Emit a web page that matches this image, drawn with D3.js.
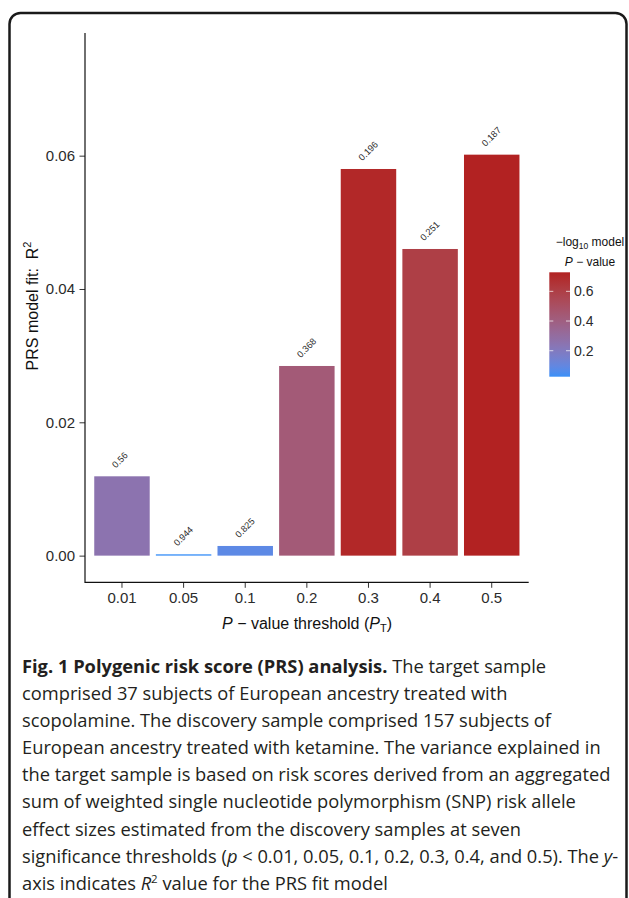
<!DOCTYPE html>
<html>
<head>
<meta charset="utf-8">
<script src="https://cdn.jsdelivr.net/npm/d3@7"></script>
<style>
  body { margin: 0; background: #fff; }
  svg { display: block; }
</style>
</head>
<body>
<div id="chart"></div>
<script>
var W = 629;
var H = 898;

// data
var thresholds = ['0.01', '0.05', '0.1', '0.2', '0.3', '0.4', '0.5'];
var r2Values = [0.0119, 0.0002, 0.00145, 0.02845, 0.0580, 0.0460, 0.06015];
var modelP = [0.56, 0.944, 0.825, 0.368, 0.196, 0.251, 0.187];
var yTicks = [0, 0.02, 0.04, 0.06];
var legendTicks = [0.2, 0.4, 0.6];

var lowColor = '#3a90f8';
var highColor = '#b22222';

var svg = d3.select('#chart').append('svg').attr('width', W).attr('height', H);

// rounded frame round the figure
svg.append('rect')
  .attr('x', 9.5).attr('y', 13)
  .attr('width', 617).attr('height', 960)
  .attr('rx', 11)
  .attr('fill', 'none')
  .attr('stroke', '#1a1a1a')
  .attr('stroke-width', 2.5);

/* ===== SCALES ===== */

var xScale = d3.scaleBand()
  .domain(thresholds)
  .range([85, 528.7])
  .paddingInner(0.1)
  .paddingOuter(0.15);

var yScale = d3.scaleLinear()
  .domain([-0.004, 0.0784])
  .range([582.3, 33]);

var logP = modelP.map(function (p) { return -Math.log10(p); });
var cMin = d3.min(logP), cMax = d3.max(logP);

var color = d3.scaleLinear()
  .domain([cMin, cMax])
  .range([lowColor, highColor])
  .interpolate(d3.interpolateLab);

var plotFont = '"Liberation Sans", Arial, Helvetica, sans-serif';

/* ===== BARS ===== */

var bars = svg.append('g').selectAll('g')
  .data(thresholds)
  .enter()
  .append('g');

bars.append('rect')
  .attr('x', function (d) { return xScale(d); })
  .attr('width', xScale.bandwidth())
  .attr('y', function (d, i) { return yScale(r2Values[i]); })
  .attr('height', function (d, i) { return yScale(0) - yScale(r2Values[i]); })
  .attr('fill', function (d, i) { return color(logP[i]); });

bars.append('text')
  .attr('transform', function (d, i) {
    var cx = xScale(d) + xScale.bandwidth() / 2;
    return 'translate(' + (cx - 8.5) + ',' + (yScale(r2Values[i]) - 10) + ') rotate(-45)';
  })
  .attr('dy', '0.35em')
  .attr('text-anchor', 'start')
  .style('font-family', plotFont)
  .style('font-size', '9.2px')
  .attr('fill', '#2a2a2a')
  .text(function (d, i) { return modelP[i]; });

/* ===== AXES ===== */

var yAxis = d3.axisLeft(yScale)
  .tickValues(yTicks)
  .tickFormat(d3.format('.2f'))
  .tickSize(5.5)
  .tickPadding(4.5);

var yG = svg.append('g').attr('transform', 'translate(85,0)').call(yAxis);
yG.select('.domain').remove();

var xAxis = d3.axisBottom(xScale)
  .tickSize(5.5)
  .tickPadding(4.5);

var xG = svg.append('g').attr('transform', 'translate(0,582.3)').call(xAxis);
xG.select('.domain').remove();

[yG, xG].forEach(function (g) {
  g.selectAll('text')
    .style('font-family', plotFont)
    .style('font-size', '15px')
    .attr('fill', '#2b2b2b');
  g.selectAll('.tick line').attr('stroke', '#333').attr('stroke-width', 1);
});

svg.append('path')
  .attr('d', 'M85,33V582.3H528.7')
  .attr('fill', 'none')
  .attr('stroke', '#111')
  .attr('stroke-width', 1.2);

// y title
var yTitle = svg.append('text')
  .attr('transform', 'translate(37.5,306) rotate(-90)')
  .attr('text-anchor', 'middle')
  .style('font-family', plotFont)
  .style('font-size', '16px')
  .style('white-space', 'pre')
  .attr('fill', '#111');
yTitle.append('tspan').text('PRS model fit:  R');
yTitle.append('tspan').attr('dy', -7).style('font-size', '11px').text('2');

// x title
var xTitle = svg.append('text')
  .attr('x', 307).attr('y', 628.5)
  .attr('text-anchor', 'middle')
  .style('font-family', plotFont)
  .style('font-size', '16px')
  .style('white-space', 'pre')
  .attr('fill', '#111');
xTitle.append('tspan').style('font-style', 'italic').text('P');
xTitle.append('tspan').text(' \u2212 value threshold (');
xTitle.append('tspan').style('font-style', 'italic').text('P');
xTitle.append('tspan').attr('dy', 3.5).style('font-size', '11px').text('T');
xTitle.append('tspan').attr('dy', -3.5).text(')');

/* ===== LEGEND ===== */

var legY = d3.scaleLinear().domain([cMin, cMax]).range([376.7, 272.3]);
var legX = 549.3, legW = 20.7;

var grad = svg.append('defs').append('linearGradient')
  .attr('id', 'legGrad')
  .attr('x1', 0).attr('y1', 1).attr('x2', 0).attr('y2', 0);

grad.selectAll('stop')
  .data(d3.range(0, 1.0001, 0.05))
  .enter()
  .append('stop')
  .attr('offset', function (t) { return t; })
  .attr('stop-color', function (t) { return color(cMin + t * (cMax - cMin)); });

svg.append('rect')
  .attr('x', legX).attr('y', legY(cMax))
  .attr('width', legW).attr('height', legY(cMin) - legY(cMax))
  .attr('fill', 'url(#legGrad)');

var legTickG = svg.append('g').selectAll('g')
  .data(legendTicks)
  .enter()
  .append('g');

legTickG.append('line')
  .attr('x1', legX).attr('x2', legX + 4)
  .attr('y1', function (d) { return legY(d); })
  .attr('y2', function (d) { return legY(d); })
  .attr('stroke', '#fff').attr('stroke-opacity', 0.7);

legTickG.append('line')
  .attr('x1', legX + legW - 4).attr('x2', legX + legW)
  .attr('y1', function (d) { return legY(d); })
  .attr('y2', function (d) { return legY(d); })
  .attr('stroke', '#fff').attr('stroke-opacity', 0.7);

legTickG.append('text')
  .attr('x', legX + legW + 4)
  .attr('y', function (d) { return legY(d); })
  .attr('dy', '0.35em')
  .style('font-family', plotFont)
  .style('font-size', '14px')
  .attr('fill', '#2b2b2b')
  .text(function (d) { return d.toFixed(1); });

var legT1 = svg.append('text')
  .attr('x', 590).attr('y', 246)
  .attr('text-anchor', 'middle')
  .style('font-family', plotFont)
  .style('font-size', '12px')
  .style('white-space', 'pre')
  .attr('fill', '#111');
legT1.append('tspan').text('\u2212log');
legT1.append('tspan').attr('dy', 3).style('font-size', '8.5px').text('10');
legT1.append('tspan').attr('dy', -3).text(' model');

var legT2 = svg.append('text')
  .attr('x', 590).attr('y', 266)
  .attr('text-anchor', 'middle')
  .style('font-family', plotFont)
  .style('font-size', '12px')
  .style('white-space', 'pre')
  .attr('fill', '#111');
legT2.append('tspan').style('font-style', 'italic').text('P');
legT2.append('tspan').text(' \u2212 value');

/* ===== CAPTION ===== */

var captionLines = [
  [['Fig. 1 Polygenic risk score (PRS) analysis.', 'b'], [' The target sample', '']],
  [['comprised 37 subjects of European ancestry treated with', '']],
  [['scopolamine. The discovery sample comprised 157 subjects of', '']],
  [['European ancestry treated with ketamine. The variance explained in', '']],
  [['the target sample is based on risk scores derived from an aggregated', '']],
  [['sum of weighted single nucleotide polymorphism (SNP) risk allele', '']],
  [['effect sizes estimated from the discovery samples at seven', '']],
  [['significance thresholds (', ''], ['p', 'i'], [' < 0.01, 0.05, 0.1, 0.2, 0.3, 0.4, and 0.5). The ', ''], ['y', 'i'], ['-', '']],
  [['axis indicates ', ''], ['R', 'i'], ['2', 'sup'], [' value for the PRS fit model', '']]
];

var capG = svg.append('g');

var capTexts = capG.selectAll('text')
  .data(captionLines)
  .enter()
  .append('text')
  .attr('x', 0)
  .attr('y', function (d, i) { return 673 + i * 27.1; })
  .style('font-family', '"Open Sans", "Noto Sans", sans-serif')
  .style('font-size', '17.5px')
  .style('white-space', 'pre')
  .attr('fill', '#231f20');

capTexts.each(function (segs) {
  var t = d3.select(this);
  var afterSup = false;
  segs.forEach(function (s) {
    var sp = t.append('tspan').text(s[0]);
    if (s[1] === 'b') sp.style('font-weight', 'bold');
    if (s[1] === 'i') sp.style('font-style', 'italic');
    if (afterSup) { sp.attr('dy', 7); afterSup = false; }
    if (s[1] === 'sup') {
      sp.attr('dy', -7).style('font-size', '11px');
      afterSup = true;
    }
  });
});

// squeeze the caption so the widest line spans the same width as in the figure
var w5 = capTexts.filter(function (d, i) { return i === 4; }).node().getComputedTextLength();
var k = 589 / w5;
capG.attr('transform', 'translate(22,0) scale(' + k + ',1)');
</script>
</body>
</html>
